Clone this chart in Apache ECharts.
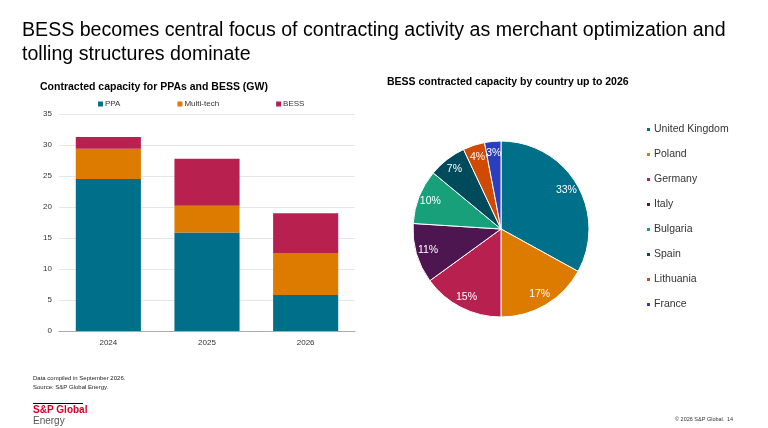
<!DOCTYPE html>
<html>
<head>
<meta charset="utf-8">
<script src="https://cdn.jsdelivr.net/npm/echarts@6/dist/echarts.min.js"></script>
<style>
  html, body { margin: 0; padding: 0; background: #fff; }
  #main { width: 768px; height: 428px; }
</style>
</head>
<body>
<div id="main"></div>
<script>
// data
var years = ['2024', '2025', '2026'];
var ppa = [24.5, 15.9, 5.8];
var multiTech = [4.9, 4.3, 6.8];
var bess = [1.9, 7.6, 6.4];

var countries = ['United Kingdom', 'Poland', 'Germany', 'Italy', 'Bulgaria', 'Spain', 'Lithuania', 'France'];
var countryShare = [33, 17, 15, 11, 10, 7, 4, 3];
var countryColors = ['#006f89', '#dd7b00', '#b82050', '#4e1650', '#17a07a', '#004b5b', '#d04a02', '#2a3fc0'];

var font = 'Liberation Sans, Arial, sans-serif';

var myChart = echarts.init(document.getElementById('main'));

var pieData = [], pieLabels = [];
for (var i = 0; i < countries.length; i++) {
	pieData.push({ name: countries[i], value: countryShare[i], itemStyle: { color: countryColors[i] } });
	pieLabels.push({ name: countries[i], value: countryShare[i] });
}

var option = {
	animation: false,
	textStyle: { fontFamily: font },
	graphic: [
		{ type: 'text', left: 22, top: 19, style: { text: 'BESS becomes central focus of contracting activity as merchant optimization and\ntolling structures dominate', fontSize: 19.6, lineHeight: 24, fill: '#000', fontFamily: font } },
		{ type: 'text', left: 40, top: 82, style: { text: 'Contracted capacity for PPAs and BESS (GW)', fontSize: 10.5, fontWeight: 'bold', fill: '#000', fontFamily: font } },
		{ type: 'text', left: 387, top: 77, style: { text: 'BESS contracted capacity by country up to 2026', fontSize: 10.5, fontWeight: 'bold', fill: '#000', fontFamily: font } },
		{ type: 'text', left: 33, top: 374, style: { text: 'Data compiled in September 2026.\nSource: S&P Global Energy.', fontSize: 6, lineHeight: 9, fill: '#222', fontFamily: font } },
		{ type: 'rect', shape: { x: 33, y: 403, width: 50, height: 1 }, style: { fill: '#000' } },
		{ type: 'text', left: 33, top: 405, style: { text: 'S&P Global', fontSize: 10, fontWeight: 'bold', fill: '#d6002a', fontFamily: font } },
		{ type: 'text', left: 33, top: 416, style: { text: 'Energy', fontSize: 10, fill: '#555', fontFamily: font } },
		{ type: 'text', left: 675, top: 416, style: { text: '© 2026 S&P Global.', fontSize: 5.5, fill: '#333', fontFamily: font } },
		{ type: 'text', left: 727, top: 416, style: { text: '14', fontSize: 5.5, fill: '#333', fontFamily: font } }
	],
	legend: [
		{
			data: ['PPA', 'Multi-tech', 'BESS'],
			left: 93, top: 95, itemGap: 57,
			itemWidth: 5, itemHeight: 5, icon: 'rect',
			textStyle: { fontSize: 8, color: '#333', padding: [0, 0, 0, -3] }
		},
		{
			data: countries,
			orient: 'vertical', left: 640, top: 119, itemGap: 14,
			itemWidth: 5, itemHeight: 5, icon: 'rect',
			textStyle: { fontSize: 10.5, color: '#333', padding: [0, 0, 0, -2] }
		}
	],
	grid: { left: 59, top: 114, width: 296, height: 217, containLabel: false },
	xAxis: {
		type: 'category', data: years,
		axisLine: { lineStyle: { color: '#aaa' } },
		axisTick: { show: false },
		axisLabel: { fontSize: 8, color: '#333', margin: 8 }
	},
	yAxis: {
		type: 'value', min: 0, max: 35, interval: 5,
		axisLine: { show: false }, axisTick: { show: false },
		axisLabel: { fontSize: 8, color: '#333', margin: 7 },
		splitLine: { lineStyle: { color: '#e6e6e6' } }
	},
	series: [
		{ name: 'PPA', type: 'bar', stack: 'a', data: ppa, barWidth: '66%', itemStyle: { color: '#006f89' } },
		{ name: 'Multi-tech', type: 'bar', stack: 'a', data: multiTech, itemStyle: { color: '#dd7b00' } },
		{ name: 'BESS', type: 'bar', stack: 'a', data: bess, itemStyle: { color: '#b82050' } },
		{
			name: 'Country', type: 'pie', center: [501, 229], radius: 88,
			startAngle: 90, clockwise: true,
			data: pieData,
			itemStyle: { borderColor: '#fff', borderWidth: 1 },
			label: { show: false },
			labelLine: { show: false }
		},
		{
			// transparent ring only used to place the percentage labels further out
			name: 'CountryLabels', type: 'pie', center: [501, 229], radius: [58, 88],
			startAngle: 90, clockwise: true, silent: true,
			data: pieLabels,
			itemStyle: { color: 'rgba(0,0,0,0)' },
			label: { position: 'inside', formatter: '{c}%', color: '#fff', fontSize: 10.5 },
			labelLine: { show: false },
			emphasis: { disabled: true }
		}
	]
};
myChart.setOption(option);
</script>
</body>
</html>
